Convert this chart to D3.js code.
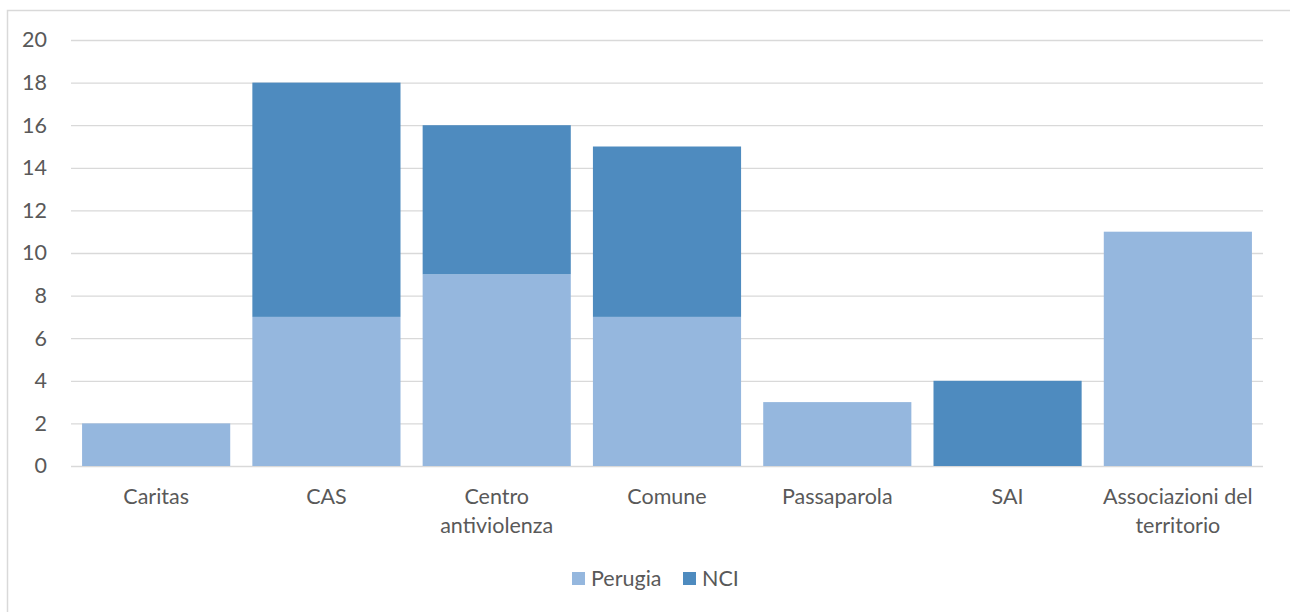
<!DOCTYPE html>
<html>
<head>
<meta charset="utf-8">
<script src="https://cdn.jsdelivr.net/npm/d3@7/dist/d3.min.js"></script>
<style>
  html, body { margin: 0; padding: 0; background: #fff; }
  svg { display: block; }
  text { font-family: Lato, "Open Sans", "Liberation Sans", sans-serif; fill: #595959; }
</style>
</head>
<body>
<svg id="chart" width="1290" height="612"></svg>
<script>
const categories = ["Caritas", "CAS", "Centro antiviolenza", "Comune", "Passaparola", "SAI", "Associazioni del territorio"];
const categoryLines = [["Caritas"], ["CAS"], ["Centro", "antiviolenza"], ["Comune"], ["Passaparola"], ["SAI"], ["Associazioni del", "territorio"]];
const perugia = [2, 7, 9, 7, 3, 0, 11];
const nci = [0, 11, 7, 8, 0, 4, 0];
const seriesNames = ["Perugia", "NCI"];
const seriesColors = ["#95b7de", "#4e8bbf"];
const yTicks = [0, 2, 4, 6, 8, 10, 12, 14, 16, 18, 20];

const FONT = 21.5;
const svg = d3.select("#chart");

// outer chart frame
svg.append("rect")
  .attr("x", 7.5).attr("y", 10.5)
  .attr("width", 1300).attr("height", 620)
  .attr("fill", "none").attr("stroke", "#d9d9d9").attr("stroke-width", 1.5);

const plot = { left: 71, right: 1263, top: 40, bottom: 466 };

const x = d3.scaleBand().domain(categories)
  .range([plot.left, plot.right]).paddingInner(0.13).paddingOuter(0.065);
const y = d3.scaleLinear().domain([0, 20]).range([plot.bottom, plot.top]);

// gridlines
svg.append("g").selectAll("line").data(yTicks).join("line")
  .attr("x1", plot.left).attr("x2", plot.right)
  .attr("y1", d => y(d) + 0.5).attr("y2", d => y(d) + 0.5)
  .attr("stroke", "#d9d9d9").attr("stroke-width", 1.3);

// y axis labels
const yAxis = d3.axisLeft(y).tickValues(yTicks).tickSize(0).tickPadding(0);
const yg = svg.append("g").attr("transform", `translate(47,0)`).call(yAxis);
yg.select(".domain").remove();
yg.selectAll("text").attr("font-size", FONT).attr("fill", "#595959")
  .style("font-family", 'Lato, "Open Sans", "Liberation Sans", sans-serif');

// stacked bars
const rows = categories.map((c, i) => ({ cat: c, Perugia: perugia[i], NCI: nci[i] }));
const stack = d3.stack().keys(seriesNames)(rows);
svg.append("g").selectAll("g").data(stack).join("g")
  .attr("fill", (d, i) => seriesColors[i])
  .selectAll("rect").data(d => d.filter(p => p[1] > p[0])).join("rect")
  .attr("x", d => x(d.data.cat))
  .attr("width", x.bandwidth())
  .attr("y", d => y(d[1]))
  .attr("height", d => y(d[0]) - y(d[1]));

// category labels
const xl = svg.append("g");
categories.forEach((c, i) => {
  const t = xl.append("text")
    .attr("x", x(c) + x.bandwidth() / 2)
    .attr("y", 504)
    .attr("text-anchor", "middle")
    .attr("font-size", FONT);
  categoryLines[i].forEach((line, j) => {
    t.append("tspan").attr("x", x(c) + x.bandwidth() / 2).attr("dy", j === 0 ? 0 : 29).text(line);
  });
});

// legend
const legend = svg.append("g");
const legendItems = [{ name: seriesNames[0], color: seriesColors[0], x: 572 }, { name: seriesNames[1], color: seriesColors[1], x: 683 }];
legendItems.forEach(it => {
  legend.append("rect").attr("x", it.x).attr("y", 572).attr("width", 13).attr("height", 13).attr("fill", it.color);
  legend.append("text").attr("x", it.x + 19).attr("y", 586).attr("font-size", FONT).text(it.name);
});
</script>
</body>
</html>
